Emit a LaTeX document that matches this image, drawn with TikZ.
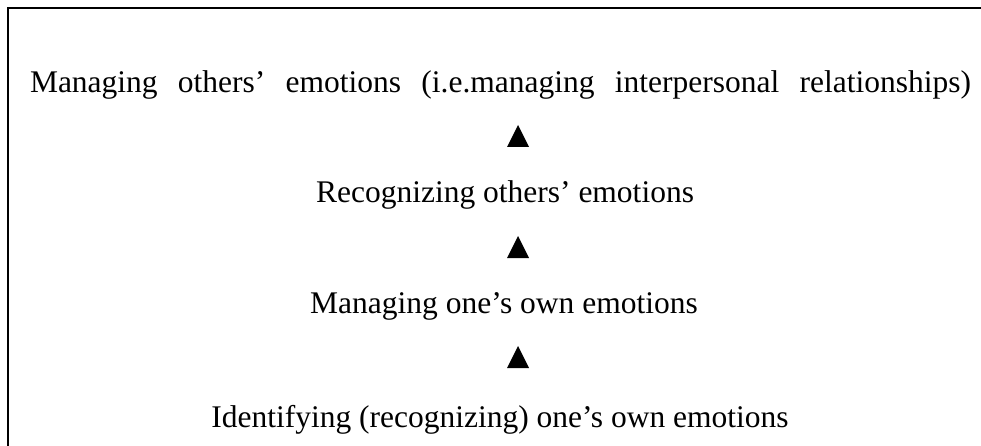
\documentclass[tikz,border=0pt]{standalone}
\usepackage{fontspec}
\setmainfont{Liberation Serif}
\usepackage{xcolor}
\usepackage{tikz}
\usetikzlibrary{positioning}
\tikzset{
  lvl/.style={anchor=base, inner sep=0pt, font=\fontsize{31.5}{36}\selectfont},
  frm/.style={line width=2pt, color=black},
  tri/.style={fill=black},
}

\begin{document}
\begin{tikzpicture}[x=1pt, y=-1pt]
  \useasboundingbox (0,0) rectangle (981,446);

  % ── Frame ──────────────────────────────────────────────────────────────────
  \coordinate (ftr) at (981,8);
  \coordinate (ftl) at (8,8);
  \coordinate (fbl) at (8,446);
  \draw[frm] (ftr) -- (ftl) -- (fbl);

  % ── Levels ─────────────────────────────────────────────────────────────────
  \node[lvl] at (500.5, 93) (others)
      {\makebox[941pt][s]{Managing others’ emotions (i.e.managing interpersonal relationships)}};
  \node[lvl] at (505, 203) (recog) {Recognizing others’ emotions};
  \node[lvl] at (504, 313) (own) {Managing one’s own emotions};
  \node[lvl] at (500, 427) (ident) {Identifying (recognizing) one’s own emotions};

  % ── Triangles ──────────────────────────────────────────────────────────────
  \fill[tri] (507,147) -- (529,147) -- (518,125) -- cycle;
  \fill[tri] (507,258) -- (529,258) -- (518,236) -- cycle;
  \fill[tri] (507,368) -- (529,368) -- (518,346) -- cycle;
\end{tikzpicture}
\end{document}
